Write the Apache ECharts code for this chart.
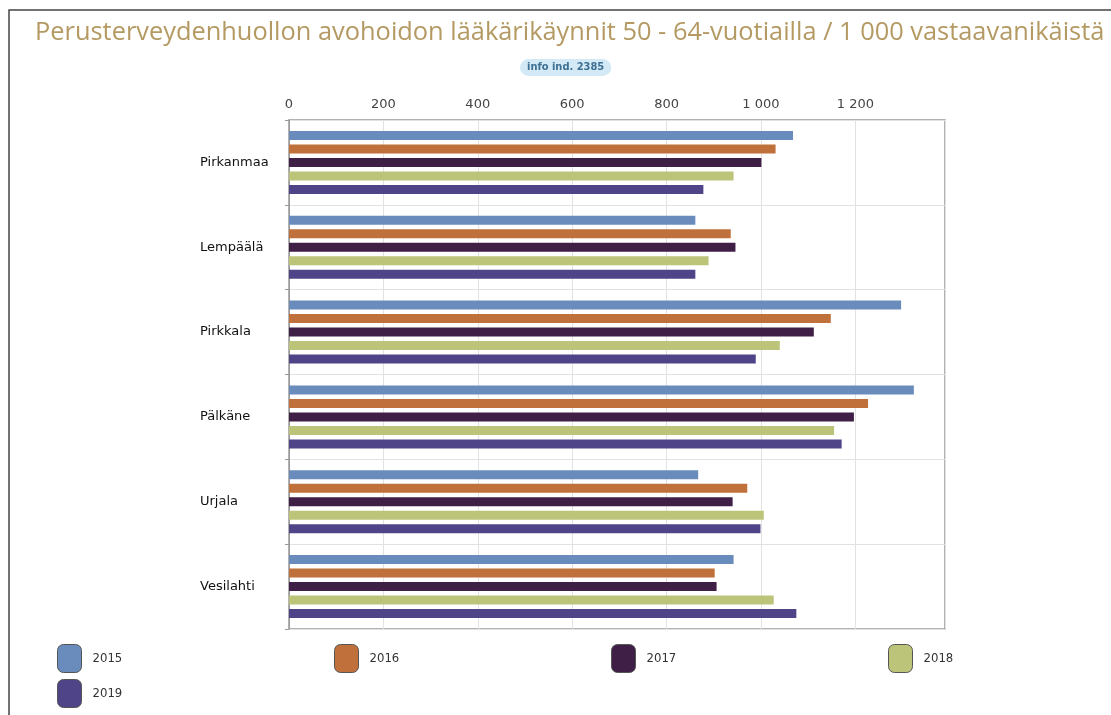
<!DOCTYPE html>
<html>
<head>
<meta charset="utf-8">
<script src="https://cdn.jsdelivr.net/npm/echarts@6/dist/echarts.min.js"></script>
<style>
html,body{margin:0;padding:0;background:#fff;}
#main{width:1111px;height:715px;}
</style>
</head>
<body>
<div id="main"></div>
<script>
let areas = ['Pirkanmaa','Lempäälä','Pirkkala','Pälkäne','Urjala','Vesilahti'];
let years = ['2015','2016','2017','2018','2019'];
let v2015 = [1068, 861, 1297, 1324, 867, 942];
let v2016 = [1031, 936, 1148, 1227, 971, 902];
let v2017 = [1001, 946, 1112, 1197, 940, 906];
let v2018 = [942, 889, 1040, 1155, 1006, 1027];
let v2019 = [878, 861, 989, 1171, 999, 1075];
let colors = ['#6a8cbc','#c0703a','#3f1f45','#bcc47a','#4f4487'];

let values = [v2015, v2016, v2017, v2018, v2019];
let myChart = echarts.init(document.getElementById('main'));

myChart.setOption({
    animation:false,
    title:[{
        text:'Perusterveydenhuollon avohoidon lääkärikäynnit 50 - 64-vuotiailla / 1 000 vastaavanikäistä',
        left:30,
        top:15,
        textStyle:{color:'#b49a62',fontSize:25.4,fontWeight:'normal',fontFamily:'Open Sans'}
    },{
        text:'info ind. 2385',
        left:520,
        top:59,
        backgroundColor:'#d3eaf6',
        borderRadius:9,
        padding:[3,7],
        textStyle:{color:'#3d6f92',fontSize:11,fontWeight:'bold',fontFamily:'DejaVu Sans Condensed'}
    }],
    graphic:[{
        type:'rect',
        shape:{x:9,y:10,width:1120,height:720},
        style:{fill:'none',stroke:'#444',lineWidth:1.5},
        silent:true
    }],
    legend:years.map((y,i)=>({
        data:[y],
        left:57 + (i%4)*277,
        top:i<4 ? 644 : 679,
        padding:0,
        icon:'roundRect',
        itemWidth:24,
        itemHeight:28,
        itemGap:0,
        itemStyle:{borderColor:'#555',borderWidth:1},
        textStyle:{color:'#333',fontSize:13,fontFamily:'DejaVu Sans Condensed',padding:[0,0,0,6]}
    })),
    grid:{
        left:289,
        right:166,
        top:120,
        bottom:86,
        show:true,
        borderColor:'#999',
        borderWidth:1.5
    },
    xAxis:{
        type:'value',
        position:'top',
        min:0,
        max:1390,
        interval:200,
        axisLine:{show:false},
        axisTick:{show:false},
        splitLine:{lineStyle:{color:'#e2e2e2'}},
        axisLabel:{
            color:'#444',
            fontSize:13,
            fontFamily:'DejaVu Sans',
            margin:9,
            showMaxLabel:false,
            formatter:(v)=>String(v).replace(/\B(?=(\d{3})+(?!\d))/g,' ')
        }
    },
    yAxis:{
        type:'category',
        data:areas,
        inverse:true,
        axisLine:{lineStyle:{color:'#999'}},
        axisTick:{show:true,length:4,lineStyle:{color:'#999'}},
        splitLine:{show:true,lineStyle:{color:'#e2e2e2'}},
        axisLabel:{
            color:'#111',
            fontSize:13,
            fontFamily:'DejaVu Sans',
            align:'left',
            margin:89
        }
    },
    series:years.map((y,i)=>({
        name:y,
        type:'bar',
        data:values[i],
        barWidth:9,
        barGap:'50%',
        itemStyle:{color:colors[i]}
    }))
});
</script>
</body>
</html>
